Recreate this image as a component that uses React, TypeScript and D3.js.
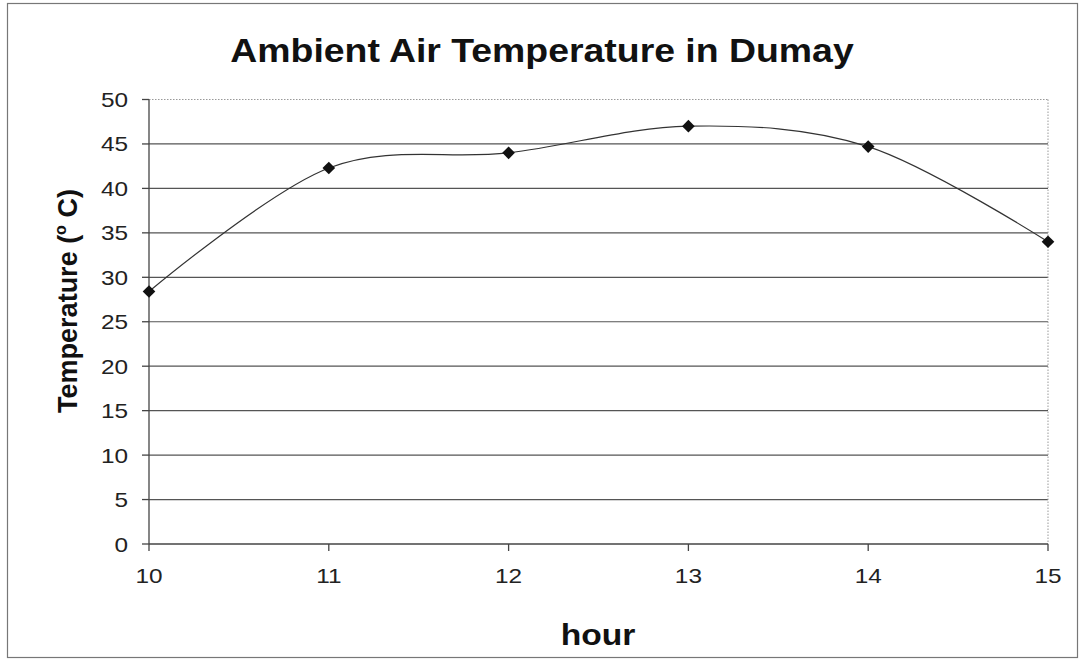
import React from "react";
import * as d3 from "d3";

const hours = [10, 11, 12, 13, 14, 15];
const temps = [28.4, 42.3, 44.0, 47.0, 44.7, 34.0];
const yTicks = [0, 5, 10, 15, 20, 25, 30, 35, 40, 45, 50];
const xTicks = [10, 11, 12, 13, 14, 15];

const W = 1082;
const H = 661;
const M = { left: 149, right: 1048, top: 99.5, bottom: 544 };
const SX = 1.16;

export default function App() {
  const x = d3.scaleLinear().domain([10, 15]).range([M.left, M.right]);
  const y = d3.scaleLinear().domain([0, 50]).range([M.bottom, M.top]);
  const line = d3
    .line<number>()
    .x((_, i) => x(hours[i]))
    .y((d) => y(d))
    .curve(d3.curveCardinal.tension(0));
  const pathD = line(temps) || "";
  const font = "Arial, 'Liberation Sans', sans-serif";
  const marker = d3.symbol().type(d3.symbolSquare).size(80)() || "";
  return (
    <svg width={W} height={H} style={{ position: "absolute", left: 0, top: 0, background: "#fff" }}>
      <rect x={7.5} y={3.5} width={1070} height={654} fill="#fff" stroke="#777" strokeWidth={1.2} />
      <text
        transform={`translate(542, 62) scale(1.1,1)`}
        textAnchor="middle"
        fontFamily={font}
        fontWeight="bold"
        fontSize={34}
        fill="#111"
      >
        Ambient Air Temperature in Dumay
      </text>
      {yTicks.filter((t) => t > 0 && t < 50).map((t) => (
        <line key={"g" + t} x1={M.left} x2={M.right} y1={y(t)} y2={y(t)} stroke="#555" strokeWidth={1.2} />
      ))}
      <line x1={M.left} x2={M.right} y1={y(50)} y2={y(50)} stroke="#999" strokeWidth={1} strokeDasharray="1.5,1.5" />
      <line x1={M.right} x2={M.right} y1={y(50)} y2={y(0)} stroke="#999" strokeWidth={1} strokeDasharray="1.5,1.5" />
      <line x1={M.left} x2={M.left} y1={y(50)} y2={y(0)} stroke="#444" strokeWidth={1.3} />
      <line x1={M.left} x2={M.right} y1={y(0)} y2={y(0)} stroke="#444" strokeWidth={1.3} />
      {yTicks.map((t) => (
        <g key={"y" + t}>
          <line x1={M.left - 7} x2={M.left} y1={y(t)} y2={y(t)} stroke="#444" strokeWidth={1.3} />
          <text
            transform={`translate(128, ${y(t) + 7.5}) scale(${SX},1)`}
            textAnchor="end"
            fontFamily={font}
            fontSize={21}
            fill="#222"
          >
            {t}
          </text>
        </g>
      ))}
      {xTicks.map((t) => (
        <g key={"x" + t}>
          <line x1={x(t)} x2={x(t)} y1={y(0)} y2={y(0) + 7} stroke="#444" strokeWidth={1.3} />
          <text
            transform={`translate(${x(t)}, ${y(0) + 39}) scale(${SX},1)`}
            textAnchor="middle"
            fontFamily={font}
            fontSize={21}
            fill="#222"
          >
            {t}
          </text>
        </g>
      ))}
      <text
        transform={`translate(598, 645) scale(${SX},1)`}
        textAnchor="middle"
        fontFamily={font}
        fontWeight="bold"
        fontSize={29}
        fill="#111"
      >
        hour
      </text>
      <text
        transform={`translate(77, 301) rotate(-90)`}
        textAnchor="middle"
        fontFamily={font}
        fontWeight="bold"
        fontSize={27}
        fill="#111"
      >
        Temperature (<tspan dy={-11} fontSize={16}>o</tspan>
        <tspan dy={11}> C)</tspan>
      </text>
      <path d={pathD} fill="none" stroke="#333" strokeWidth={1.2} />
      {temps.map((v, i) => (
        <path
          key={"m" + i}
          d={marker}
          transform={`translate(${x(hours[i])},${y(v)}) rotate(45)`}
          fill="#111"
        />
      ))}
    </svg>
  );
}
